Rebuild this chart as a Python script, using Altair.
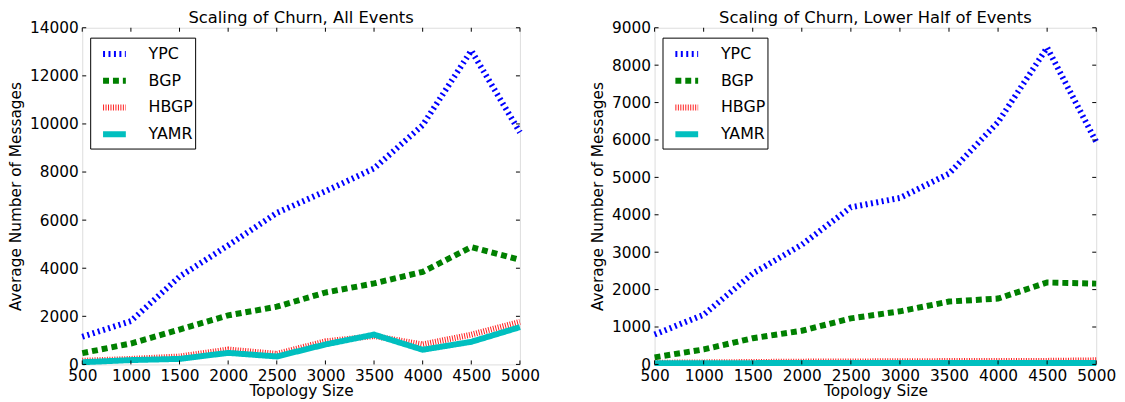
import altair as alt
import pandas as pd

sizes = [500, 1000, 1500, 2000, 2500, 3000, 3500, 4000, 4500, 5000]
series = ["YPC", "BGP", "HBGP", "YAMR"]
colors = ["#0000ff", "#008000", "#ff2020", "#00bfbf"]
dashes = [[2, 3.5], [6, 4], [1, 1.5], [1, 0]]
widths = [6, 6, 5, 7]

# Left panel: all events
all_ypc = [1150, 1800, 3650, 4950, 6300, 7200, 8150, 9950, 13050, 9650]
all_bgp = [470, 870, 1450, 2040, 2400, 2990, 3370, 3850, 4880, 4350]
all_hbgp = [150, 230, 330, 620, 440, 960, 1180, 830, 1240, 1770]
all_yamr = [90, 180, 230, 480, 330, 830, 1240, 610, 940, 1550]

# Right panel: lower half of events
low_ypc = [800, 1330, 2430, 3200, 4200, 4450, 5100, 6480, 8470, 5950]
low_bgp = [190, 400, 700, 900, 1230, 1420, 1680, 1760, 2190, 2160]
low_hbgp = [45, 55, 65, 75, 80, 85, 90, 90, 95, 110]
low_yamr = [35, 35, 35, 40, 40, 40, 40, 40, 40, 40]

x_ticks = sizes
all_y_ticks = [0, 2000, 4000, 6000, 8000, 10000, 12000, 14000]
low_y_ticks = [0, 1000, 2000, 3000, 4000, 5000, 6000, 7000, 8000, 9000]

FONT = "DejaVu Sans"
H = 340


def panel(title, vals, ymax, yticks, width):
    rows = []
    for name, v in zip(series, vals):
        for s, y in zip(sizes, v):
            rows.append({"size": s, "series": name, "value": y})
    df = pd.DataFrame(rows)
    xs = alt.Scale(domain=[500, 5000], nice=False, zero=False)
    ys = alt.Scale(domain=[0, ymax], nice=False)
    xax = alt.Axis(
        values=x_ticks, format="d", title="Topology Size", ticks=False, tickSize=0,
        domain=False, grid=False, labelPadding=4, titlePadding=0,
        labelFontSize=15.5, titleFontSize=15.5, labelFont=FONT, titleFont=FONT,
        titleFontWeight="normal", labelColor="black", titleColor="black",
        labelFlush=False, labelOverlap=False)
    yax = alt.Axis(
        values=yticks, format="d", title="Average Number of Messages", ticks=False,
        tickSize=0, domain=False, grid=False, labelPadding=4, titlePadding=6,
        labelFontSize=15.5, titleFontSize=15.5, labelFont=FONT, titleFont=FONT,
        titleFontWeight="normal", labelColor="black", titleColor="black",
        labelFlush=False, labelOverlap=False)
    leg = alt.Legend(
        title=None, orient="none", legendX=8, legendY=10,
        strokeColor="black", fillColor="white", padding=2, symbolOffset=8,
        symbolType="stroke", symbolSize=529, labelFontSize=16,
        labelFont=FONT, labelOffset=20, rowPadding=0, labelColor="black",
    )
    lines = alt.Chart(df).mark_line(strokeCap="butt", interpolate="linear").encode(
        x=alt.X("size:Q", scale=xs, axis=xax),
        y=alt.Y("value:Q", scale=ys, axis=yax),
        color=alt.Color("series:N", scale=alt.Scale(domain=series, range=colors), legend=leg),
        strokeDash=alt.StrokeDash("series:N", scale=alt.Scale(domain=series, range=dashes), legend=leg),
        strokeWidth=alt.StrokeWidth("series:N", scale=alt.Scale(domain=series, range=widths), legend=leg),
    )
    xt = pd.DataFrame({"size": x_ticks})
    yt = pd.DataFrame({"value": yticks})
    xb = alt.Chart(xt).mark_rule(color="black", strokeWidth=1).encode(
        x=alt.X("size:Q", scale=xs, axis=xax), y=alt.value(H), y2=alt.value(H - 4))
    xtop = alt.Chart(xt).mark_rule(color="black", strokeWidth=1).encode(
        x=alt.X("size:Q", scale=xs, axis=xax), y=alt.value(0), y2=alt.value(4))
    yl = alt.Chart(yt).mark_rule(color="black", strokeWidth=1).encode(
        y=alt.Y("value:Q", scale=ys, axis=yax), x=alt.value(0), x2=alt.value(4))
    yr = alt.Chart(yt).mark_rule(color="black", strokeWidth=1).encode(
        y=alt.Y("value:Q", scale=ys, axis=yax), x=alt.value(width - 4), x2=alt.value(width))
    return alt.layer(lines, xb, xtop, yl, yr).properties(
        width=width, height=H,
        title=alt.Title(title, fontSize=16.5, font=FONT, fontWeight="normal", color="black",
                        offset=-6, frame="group"),
    )


left = panel("Scaling of Churn, All Events", [all_ypc, all_bgp, all_hbgp, all_yamr], 14000, all_y_ticks, 442)
right = panel("Scaling of Churn, Lower Half of Events", [low_ypc, low_bgp, low_hbgp, low_yamr], 9000, low_y_ticks, 446)

chart = alt.hconcat(left, right, spacing=50, padding=0).resolve_scale(
    color="independent", strokeDash="independent", strokeWidth="independent",
    x="independent", y="independent",
).resolve_legend(color="independent", strokeDash="independent", strokeWidth="independent").configure_view(
    stroke="black", strokeWidth=1
).configure(background="white")

chart.save("out.html", embed_options={"renderer": "svg", "actions": False})
